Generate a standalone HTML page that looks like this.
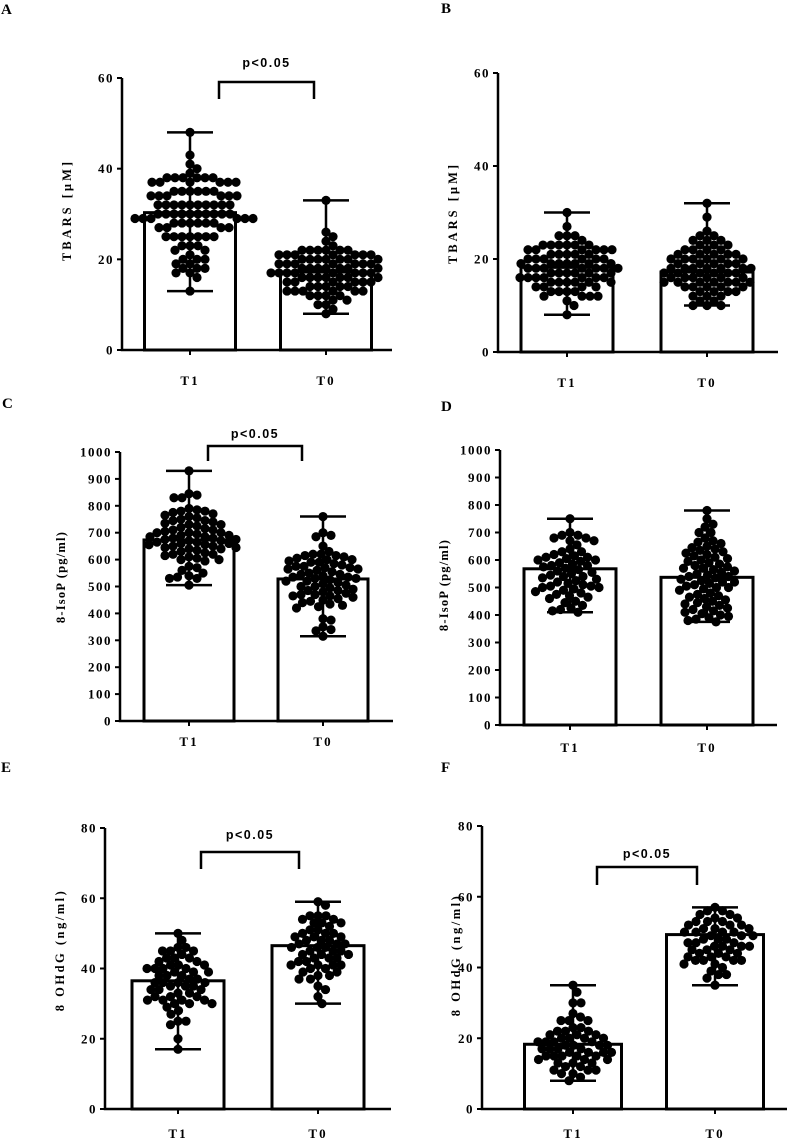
<!DOCTYPE html>
<html><head><meta charset="utf-8"><style>
html,body{margin:0;padding:0;background:#fff}
svg{display:block}
text{font-family:"Liberation Serif",serif;font-weight:bold;fill:#000}
.p{font-family:"Liberation Sans",sans-serif}
</style></head><body>
<svg id="fig" width="787" height="1140" viewBox="0 0 787 1140"></svg>
<script>
const groups = ["T1","T0"];
const aT1=[48,43,41,40,39,38,38,38,38,38,38,37,37,37,37,37,37,35,35,35,35,35,35,34,34,34,34,34,34,32,32,32,32,32,32,32,32,32,32,30,30,30,30,30,30,30,30,30,30,29,29,29,29,29,29,28,28,28,28,28,28,27,27,27,27,25,25,25,25,25,25,25,23,23,23,22,22,21,20,20,20,19,19,18,18,18,17,17,16,13];
const aT0=[33,26,25,24,23,22,22,22,22,22,22,21,21,21,21,21,21,21,20,20,20,20,20,20,20,19,19,19,19,19,19,19,18,18,18,18,18,18,18,17,17,17,17,17,17,17,17,16,16,16,16,16,16,16,15,15,15,15,15,15,14,14,14,14,14,13,13,13,13,13,13,12,12,12,12,11,11,10,10,9,8];
const bT1=[30,27,25,25,25,24,23,23,23,23,23,23,22,22,22,22,22,22,21,21,21,21,21,20,20,20,20,20,20,19,19,19,19,19,19,19,18,18,18,18,18,18,18,17,17,17,17,17,17,16,16,16,16,16,16,16,15,15,15,15,15,15,14,14,14,14,13,13,13,13,12,12,12,12,11,10,8];
const bT0=[32,29,26,25,25,24,24,24,23,23,23,22,22,22,22,21,21,21,21,21,20,20,20,20,20,20,19,19,19,19,19,18,18,18,18,18,18,18,17,17,17,17,17,17,16,16,16,16,16,16,15,15,15,15,15,15,15,14,14,14,14,14,13,13,13,13,12,12,12,11,11,10,10,10];
const cT1=[930,845,840,830,830,790,785,780,780,775,770,765,760,755,750,745,745,740,735,730,730,725,720,715,710,710,705,700,700,700,695,690,690,685,685,680,680,675,675,670,670,665,665,660,660,655,655,650,650,645,645,640,640,635,630,625,620,620,615,610,605,600,600,595,575,570,560,550,540,535,530,530,505];
const cT0=[760,700,690,685,650,630,620,620,615,615,610,605,600,600,595,590,590,585,580,575,575,570,570,565,565,560,555,550,545,545,540,535,535,530,530,525,520,520,515,510,505,500,500,495,490,485,485,480,475,470,470,465,465,460,455,450,445,440,435,430,425,420,380,375,350,340,335,315];
const dT1=[750,700,690,690,680,680,670,670,655,640,630,630,620,615,610,610,605,600,600,595,590,585,580,580,575,570,565,560,555,550,545,540,540,535,530,525,520,515,510,505,505,500,500,495,490,485,480,475,470,465,460,450,445,435,425,420,415,410];
const dT0=[780,750,730,720,700,700,680,670,665,660,650,645,640,635,630,625,620,615,610,605,600,595,590,585,580,575,570,570,565,560,555,550,545,540,540,535,530,525,520,520,515,510,505,500,500,495,490,480,475,470,465,460,455,450,445,440,435,430,425,420,415,410,405,400,395,390,385,380,375];
const eT1=[50,48,46,46,45,45,45,44,43,43,43,42,42,41,41,41,40,40,40,40,39,39,39,38,38,38,37,37,36,36,36,36,35,35,35,34,34,34,33,33,32,32,32,31,31,31,31,30,30,30,29,28,27,25,25,24,20,17];
const eT0=[59,58,55,55,55,54,54,53,53,53,52,51,51,50,50,50,49,49,49,48,48,48,47,47,47,46,46,46,45,45,45,44,44,44,43,43,43,42,42,41,41,41,41,40,40,39,39,38,38,37,37,35,34,32,30];
const fT1=[35,33,30,30,27,26,25,25,25,23,23,22,22,22,21,21,21,20,20,20,20,19,19,19,19,18,18,18,18,17,17,17,17,16,16,16,16,15,15,15,15,15,14,14,14,13,13,13,12,12,11,11,11,10,10,9,8];
const fT0=[57,56,56,55,55,54,54,53,53,53,52,52,52,51,51,51,50,50,50,50,49,49,49,48,48,48,47,47,47,46,46,46,46,45,45,45,44,44,44,43,43,43,42,42,42,42,41,41,40,39,38,38,37,35];
const meansA=[30.3,17.2], meansB=[18.2,17.2], meansC=[673,528], meansD=[568,537], meansE=[36.5,46.5], meansF=[18.3,49.3];
const ticksA=[0,20,40,60], ticksB=[0,20,40,60];
const ticksC=[0,100,200,300,400,500,600,700,800,900,1000], ticksD=ticksC;
const ticksE=[0,20,40,60,80], ticksF=[0,20,40,60,80];

const NS="http://www.w3.org/2000/svg";
const svg=document.getElementById('fig');
function el(tag,attrs,parent){const e=document.createElementNS(NS,tag);for(const k in attrs)e.setAttribute(k,attrs[k]);(parent||svg).appendChild(e);return e;}

const R=4.6;
function swarm(ys){
  const placed=[];const out=[];
  ys.forEach(yy=>{
    let best=0;
    for(let s=0;s<200;s++){
      const cand=[s*0.5,-s*0.5];
      let ok=null;
      for(const dx of cand){
        if(placed.every(p=>{const ddx=p[0]-dx,ddy=p[1]-yy;return ddx*ddx+ddy*ddy>=(2*R-1.2)*(2*R-1.2);})){ok=dx;break;}
      }
      if(ok!==null){best=ok;break;}
    }
    placed.push([best,yy]);out.push(best);
  });
  return out;
}

function panel(cfg){
  const g=el('g',{});
  
  
  const max=cfg.ticks[cfg.ticks.length-1];
  const y=v=>cfg.y0-(v/max)*(cfg.y0-cfg.yTop);
  const lt=el('text',{x:cfg.lx,y:cfg.ly,'font-size':15},g); lt.textContent=cfg.id;
  
  
  cfg.series.forEach((vals,i)=>{
    const cx=cfg.c[i], m=cfg.means[i];
    const bar=el('rect',{x:cx-cfg.bw/2,y:y(m),width:cfg.bw,height:cfg.y0-y(m),fill:'#fff',stroke:'#000','stroke-width':3},g);
    
    
  });
  cfg.series.forEach((vals,i)=>{
    const cx=cfg.c[i];
    const ys=vals.map(y);
    const offs=swarm(ys);
    ys.forEach((yy,j)=>{
      const d=el('circle',{cx:cx+offs[j],cy:yy,r:R,fill:'#000'},g);
      
      
    });
    const lo=Math.min(...vals), hi=Math.max(...vals);
    const eb=el('path',{d:`M${cx} ${y(lo)}V${y(hi)}M${cx-23} ${y(lo)}H${cx+23}M${cx-23} ${y(hi)}H${cx+23}`,stroke:'#000','stroke-width':2.5,fill:'none'},g);
    
    
    el('path',{d:`M${cx} ${cfg.y0}V${cfg.y0+5}`,stroke:'#000','stroke-width':2},g);
    const xl=el('text',{x:cx,y:cfg.xly,'font-size':13,'text-anchor':'middle','letter-spacing':'2'},g);xl.textContent=groups[i];
    
    
  });
  const ax=el('path',{d:`M${cfg.ax} ${cfg.yTop}V${cfg.y0}H${cfg.xEnd}`,stroke:'#000','stroke-width':2.5,fill:'none'},g);
  
  
  cfg.ticks.forEach(t=>{
    el('path',{d:`M${cfg.ax-5} ${y(t)}H${cfg.ax}`,stroke:'#000','stroke-width':2},g);
    const tl=el('text',{x:cfg.ax-8,y:y(t)+4.5,'font-size':13,'text-anchor':'end','letter-spacing':'1.5'},g);tl.textContent=t;
    
    
  });
  const yl=el('text',{x:0,y:0,'font-size':12.5,'text-anchor':'middle','letter-spacing':cfg.ls,transform:`translate(${cfg.ylx},${cfg.yly}) rotate(-90)`},g);
  yl.textContent=cfg.ylab;
  
  
  if(cfg.br){
    const b=cfg.br;
    const bp=el('path',{d:`M${b[0]} ${b[3]}V${b[2]}H${b[1]}V${b[3]}`,stroke:'#000','stroke-width':2.5,fill:'none'},g);
    
    
    const pt=el('text',{x:(b[0]+b[1])/2,y:b[4],'font-size':12.5,'text-anchor':'middle','letter-spacing':'1.5','class':'p'},g);pt.textContent='p<0.05';
    
    
  }
}
panel({id:'A',lx:1,ly:14,ax:122,y0:350,yTop:78,xEnd:392,c:[190,326],bw:91,xly:385,ylx:71,yly:210,ylab:'TBARS [µM]',ls:'3',ticks:ticksA,means:meansA,series:[aT1,aT0],br:[219,314,82,99,67]});
panel({id:'B',lx:441,ly:13,ax:498,y0:352,yTop:73,xEnd:778,c:[567,707],bw:92,xly:387,ylx:457,yly:213,ylab:'TBARS [µM]',ls:'3',ticks:ticksB,means:meansB,series:[bT1,bT0]});
panel({id:'C',lx:2,ly:408,ax:120,y0:721,yTop:452,xEnd:393,c:[189,323],bw:90,xly:746,ylx:65,yly:577,ylab:'8-IsoP (pg/ml)',ls:'1.2',ticks:ticksC,means:meansC,series:[cT1,cT0],br:[208,302,446,461,438]});
panel({id:'D',lx:441,ly:411,ax:500,y0:725,yTop:450,xEnd:777,c:[570,707],bw:92,xly:752,ylx:448,yly:585,ylab:'8-IsoP (pg/ml)',ls:'1.2',ticks:ticksD,means:meansD,series:[dT1,dT0]});
panel({id:'E',lx:1,ly:772,ax:105,y0:1109,yTop:828,xEnd:391,c:[178,318],bw:92,xly:1138,ylx:64,yly:950,ylab:'8 OHdG (ng/ml)',ls:'2.5',ticks:ticksE,means:meansE,series:[eT1,eT0],br:[201,299,852,869,839]});
panel({id:'F',lx:441,ly:772,ax:482,y0:1109,yTop:826,xEnd:787,c:[573,715],bw:97,xly:1138,ylx:460,yly:955,ylab:'8 OHdG (ng/ml)',ls:'2.5',ticks:ticksF,means:meansF,series:[fT1,fT0],br:[597,697,867,885,858]});
</script>
</body></html>
